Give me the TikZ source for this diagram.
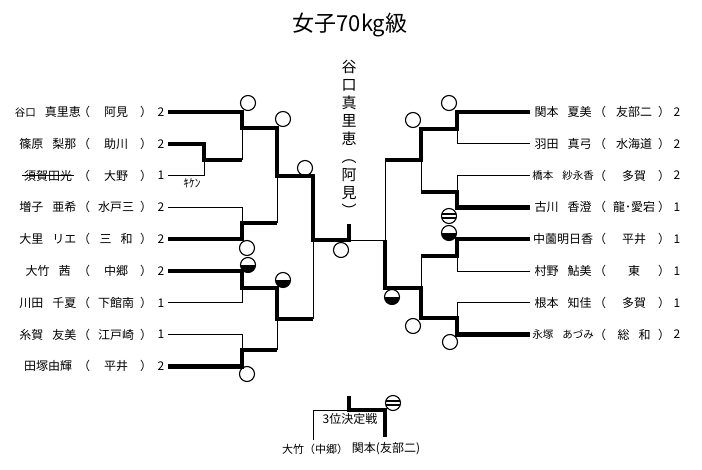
\documentclass[tikz,border=0pt]{standalone}
\usepackage{fontspec}
\setmainfont{Noto Sans CJK JP}
\newcommand\kuhaku{\hspace{9pt}}
\newcommand\chiisa{\fontsize{10.5}{11}\selectfont}
\begin{document}
\begin{tikzpicture}[x=1pt, y=-1pt,
		win/.style={line width=4.5pt},
		lose/.style={line width=0.8pt},
		tx/.style={inner sep=0pt, font=\fontsize{12}{12}\selectfont},
		maru/.style={circle, draw, line width=1.1pt, minimum size=15pt, inner sep=0pt, fill=white},
		han/.style={maru, path picture={\fill[black] (path picture bounding box.west) rectangle (path picture bounding box.south east);}},
		shima/.style={maru, path picture={
			\fill[black] ([yshift=1.4pt]path picture bounding box.west) rectangle ([yshift=3.4pt]path picture bounding box.east);
			\fill[black] ([yshift=-1.4pt]path picture bounding box.west) rectangle ([yshift=-3.4pt]path picture bounding box.east);}}
		]
	\useasboundingbox (0,0) rectangle (702,469);
	\node[font=\fontsize{22}{22}\selectfont] (title) at (350,25) {女子70kg級};

	% left side
	\foreach \nm/\sc/\pt [count=\i] in {{{\chiisa 谷口}\kuhaku 真里恵}/阿見/2, {篠原\kuhaku 梨那}/助川/2,
			{須賀田光}/大野/1, {増子\kuhaku 亜希}/水戸三/2, {大里\kuhaku リエ}/{三\kuhaku 和}/2,
			{大竹\kuhaku 茜}/中郷/2, {川田\kuhaku 千夏}/下館南/1, {糸賀\kuhaku 友美}/江戸崎/1,
			{田塚由輝}/平井/2} {
		\pgfmathsetmacro\y{112+31.8*(\i-1)}
		\node[tx] (ln\i) at (48,\y) {\nm};
		\node[tx] (lo\i) at (84,\y) {（};
		\node[tx] (ls\i) at (116,\y) {\sc};
		\node[tx] (lc\i) at (146,\y) {）};
		\node[tx] (lp\i) at (161,\y) {\pt};
		\coordinate (l\i) at (168,\y);
	}
	\draw[lose] ([xshift=-2pt]ln3.west) -- ([xshift=2pt]ln3.east);
	\node[font=\fontsize{11.5}{12}\selectfont, inner sep=0pt] (kiken) at (192,183) {ｷｹﾝ};

	% right side
	\foreach \nm/\sc/\pt [count=\i] in {{関本\kuhaku 夏美}/友部二/2, {羽田\kuhaku 真弓}/水海道/2,
			{\chiisa 橋本\kuhaku 紗永香}/多賀/2, {古川\kuhaku 香澄}/龍･愛宕/1, {中薗明日香}/平井/1,
			{村野\kuhaku 鮎美}/東/1, {根本\kuhaku 知佳}/多賀/1, {\chiisa 永塚\kuhaku あづみ}/{総\kuhaku 和}/2} {
		\pgfmathsetmacro\y{112+31.8*(\i-1)}
		\node[tx] (rn\i) at (563,\y) {\nm};
		\node[tx] (ro\i) at (600,\y) {（};
		\node[tx] (rs\i) at (634,\y) {\sc};
		\node[tx] (rc\i) at (664,\y) {）};
		\node[tx] (rp\i) at (677,\y) {\pt};
		\coordinate (r\i) at (530,\y);
	}

	% joints
	\coordinate (a1) at (204,160);
	\coordinate (b1) at (242,128);
	\coordinate (b2) at (242,223);
	\coordinate (b3) at (242,288);
	\coordinate (b4) at (242,350);
	\coordinate (c1) at (277,176);
	\coordinate (c2) at (277,319);
	\coordinate (d1) at (313,240);
	\coordinate (top) at (349,224);
	\coordinate (fin) at (349,240);
	\coordinate (rb1) at (457,129);
	\coordinate (rb2) at (457,192);
	\coordinate (rb3) at (457,256);
	\coordinate (rb4) at (457,318);
	\coordinate (rc1) at (421,160);
	\coordinate (rc2) at (421,288);
	\coordinate (rd1) at (385,240);

	% marks
	\node[maru] (m1) at (248,103) {};
	\node[maru] (m2) at (283,119) {};
	\node[maru] (m3) at (305,168) {};
	\node[maru] (m4) at (341,250) {};
	\node[maru] (m5) at (247,248) {};
	\node[han] (m6) at (248,265) {};
	\node[han] (m7) at (283,280) {};
	\node[maru] (m8) at (247,374) {};
	\node[maru] (m9) at (449,103) {};
	\node[maru] (m10) at (413,120) {};
	\node[shima] (m11) at (449,216) {};
	\node[han] (m12) at (449,233) {};
	\node[han] (m13) at (392,297) {};
	\node[maru] (m14) at (413,326) {};
	\node[maru] (m15) at (450,342) {};

	% left bracket
	\draw[win] (l1) -| (b1) -| (c1) -| (d1) -| (top);
	\draw[win] (l2) -| (a1) -- (a1 -| b1);
	\draw[lose] (a1 -| b1) -- (b1);
	\draw[lose] (l3) -| (a1);
	\draw[lose] (l4) -| (b2);
	\draw[win] (l5) -| (b2) -- (b2 -| c1);
	\draw[lose] (b2 -| c1) -- (c1);
	\draw[win] (l6) -| (b3) -| (c2) -- (c2 -| d1);
	\draw[lose] (c2 -| d1) -- (d1);
	\draw[lose] (l7) -| (b3);
	\draw[lose] (l8) -| (b4);
	\draw[win] (l9) -| (b4) -- (b4 -| c2);
	\draw[lose] (b4 -| c2) -- (c2);
	\draw[lose] (fin) -- (rd1);

	% right bracket
	\draw[win] (r1) -| (rb1) -| (rc1) -- (rc1 -| rd1);
	\draw[lose] (rc1 -| rd1) -- (rd1);
	\draw[lose] (r2) -| (rb1);
	\draw[lose] (r3) -| (rb2);
	\draw[win] (r4) -| (rb2) -- (rb2 -| rc1);
	\draw[lose] (rb2 -| rc1) -- (rc1);
	\draw[win] (r5) -| (rb3) -- (rb3 -| rc2);
	\draw[lose] (rb3 -| rc2) -- (rc2);
	\draw[lose] (r6) -| (rb3);
	\draw[lose] (r7) -| (rb4);
	\draw[win] (r8) -| (rb4) -| (rc2) -| (rd1);

	% champion
	\node[font=\fontsize{15}{18}\selectfont, align=center, inner sep=0pt] (yusho) at (349,138) {谷\\口\\真\\里\\恵\\︵\\阿\\見\\︶};

	% third place
	\coordinate (t0) at (349,396);
	\coordinate (tj) at (349,410);
	\node[font=\fontsize{11}{11}\selectfont, inner sep=0pt] (t3l) at (315,449) {大竹（中郷）};
	\node[font=\fontsize{12}{12}\selectfont, inner sep=0pt] (t3r) at (386,449) {関本(友部二)};
	\coordinate (t1) at (313,440);
	\coordinate (t2) at (385,437);
	\node[tx] (sanni) at (350,419) {3位決定戦};
	\node[shima] (m16) at (393,403) {};
	\draw[win] (t0) -- (tj) -| (t2);
	\draw[lose] (tj) -| (t1);
\end{tikzpicture}
\end{document}
